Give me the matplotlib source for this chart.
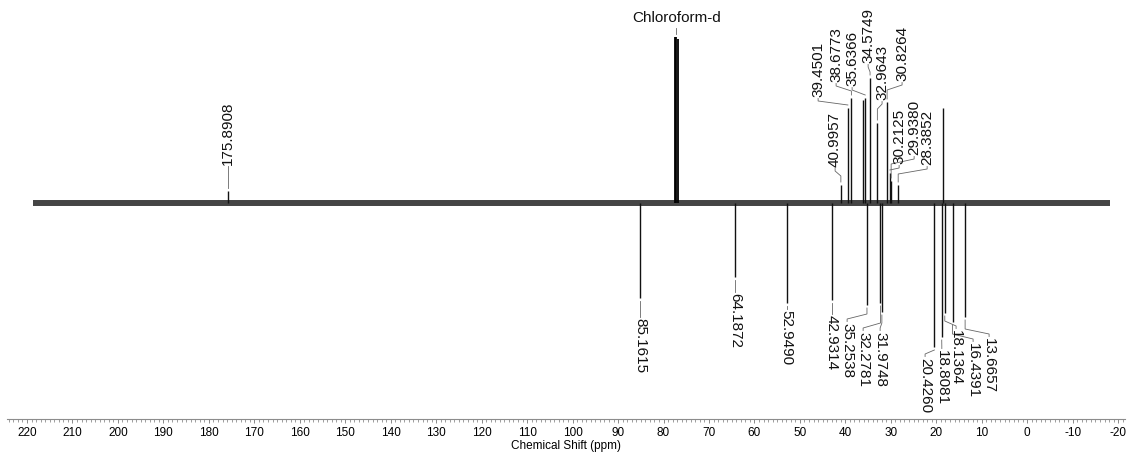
import matplotlib
matplotlib.use('Agg')
import matplotlib.pyplot as plt
from matplotlib.ticker import MultipleLocator

plt.rcParams['font.family'] = 'Liberation Sans'
plt.rcParams['axes.unicode_minus'] = False

# Peaks pointing up (ppm, relative intensity)
pos_ppm = [175.8908, 40.9957, 39.4501, 38.6773, 35.6366, 34.5749,
           32.9643, 30.8264, 30.2125, 29.9380, 28.3852]
pos_int = [12, 18, 95, 105, 105, 125, 80, 101, 30, 22, 18]

# Peaks pointing down
neg_ppm = [85.1615, 64.1872, 52.9490, 42.9314, 35.2538, 32.2781,
           31.9748, 20.4260, 18.8081, 18.1364, 16.4391, 13.6657]
neg_int = [-95, -74, -100, -97, -102, -100, -109, -144, -134, -110, -119, -114]

# Unlabelled peaks
extra_ppm = [36.02, 18.45]
extra_int = [103, 95]

# Solvent triplet
solvent_ppm = [77.48, 77.16, 76.84]
solvent_int = [166, 166, 164]
solvent_name = 'Chloroform-d'

spec_start, spec_end = 218.7, -18.2

# label placement (ppm of text column, intensity where text starts)
pos_lab_x = [175.8908, 42.26, 46.0, 42.04, 38.52, 35.0, 31.93, 27.53, 28.18, 24.88, 22.02]
pos_lab_y = [38, 36, 106, 121, 117, 140, 103, 122, 39, 48, 38]
neg_lab_x = [85.1615, 64.1872, 52.9490, 42.9314, 39.62, 36.1, 32.36, 22.47, 18.79, 15.65, 11.91, 8.39]
neg_lab_y = [-115, -90, -107, -112, -120, -129, -129, -155, -147, -127, -140, -135]

fig = plt.figure(figsize=(11.29, 4.57), dpi=100)
ax = fig.add_axes([7 / 1129, 38 / 457, 1118 / 1129, 419 / 457])
ax.set_xlim(224.4, -21.5)
ax.set_ylim(-216, 203)

# noisy baseline drawn as a dark band
ax.plot([spec_start, spec_end], [0, 0], lw=4.3, color='#454545', solid_capstyle='butt')

ax.vlines(pos_ppm, 0, pos_int, color='#111111', lw=1.0)
ax.vlines(neg_ppm, 0, neg_int, color='#111111', lw=1.0)
ax.vlines(extra_ppm, 0, extra_int, color='#111111', lw=1.0)
ax.vlines(solvent_ppm, 0, solvent_int, color='black', lw=1.3)

lab_kw = dict(fontsize=11, color='#111111', ha='center')
con_kw = dict(color='#666666', lw=0.6)

for p, h, lx, ly in zip(pos_ppm, pos_int, pos_lab_x, pos_lab_y):
    end = h + 3
    knee = max(ly - 9, end)
    ax.plot([lx, lx, p, p], [ly - 1.5, ly - 4, knee, end], **con_kw)
    ax.text(lx, ly, f'{p:.4f}', rotation=90, va='bottom', **lab_kw)

for p, h, lx, ly in zip(neg_ppm, neg_int, neg_lab_x, neg_lab_y):
    end = h - 3
    knee = min(ly + 9, end)
    ax.plot([lx, lx, p, p], [ly + 1.5, ly + 4, knee, end], **con_kw)
    ax.text(lx, ly, f'{p:.4f}', rotation=-90, va='top', **lab_kw)

top = max(solvent_int)
ax.plot([solvent_ppm[1], solvent_ppm[1]], [top + 3, top + 9], **con_kw)
ax.text(solvent_ppm[1], top + 19, solvent_name, va='center', **lab_kw)

for s in ['left', 'right', 'top']:
    ax.spines[s].set_visible(False)
ax.spines['bottom'].set_color('#8c8c8c')
ax.spines['bottom'].set_linewidth(0.8)
ax.set_yticks([])
ax.set_xticks(range(-20, 221, 10))
ax.xaxis.set_minor_locator(MultipleLocator(1))
ax.tick_params(axis='x', which='major', length=3.2, width=0.6, color='#777777',
               labelsize=8.5, pad=2.5)
ax.tick_params(axis='x', which='minor', length=2, width=0.5, color='#777777')
ax.set_xlabel('Chemical Shift (ppm)', fontsize=8.5, labelpad=1)

fig.savefig('out.png', dpi=100)
